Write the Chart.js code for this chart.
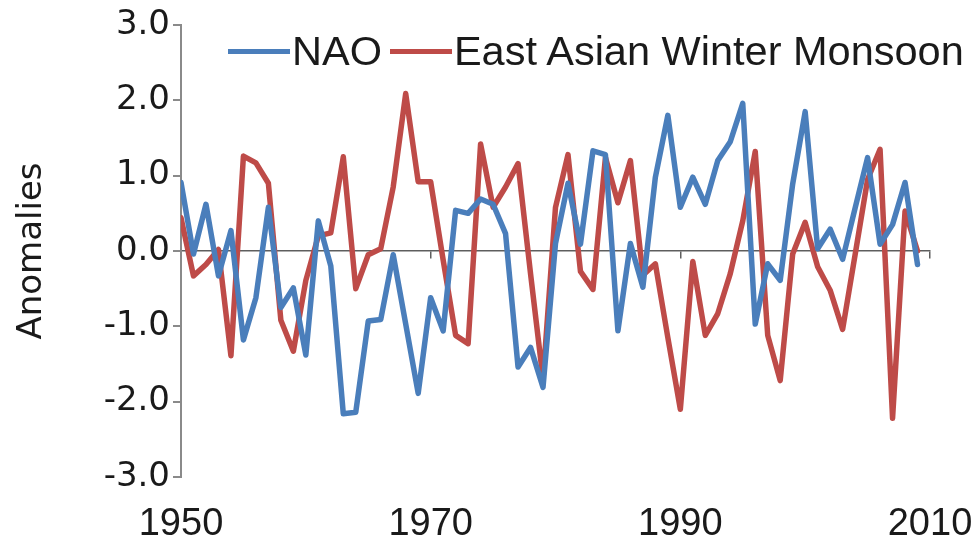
<!DOCTYPE html>
<html>
<head>
<meta charset="utf-8">
<script src="https://cdn.jsdelivr.net/npm/chart.js@4.4.0/dist/chart.umd.min.js"></script>
<style>
  html, body { margin: 0; padding: 0; background: #fff; }
  #wrap { position: relative; width: 973px; height: 541px; }
  #legend {
    position: absolute; top: 30px; left: 228px;
    display: flex; align-items: center;
    font-family: "Liberation Sans", Arial, sans-serif; font-size: 41.5px; line-height: 42px;
    color: #1a1a1a; white-space: nowrap;
  }
  .item { display: flex; align-items: center; margin-right: 8px; }
  .swatch { width: 62px; height: 5px; margin-right: 2px; }
</style>
</head>
<body>
<div id="wrap">
  <canvas id="chart" width="973" height="541"></canvas>
  <div id="legend"></div>
</div>
<script>
const years = [
    1950, 1951, 1952, 1953, 1954, 1955, 1956, 1957, 1958, 1959,
    1960, 1961, 1962, 1963, 1964, 1965, 1966, 1967, 1968, 1969,
    1970, 1971, 1972, 1973, 1974, 1975, 1976, 1977, 1978, 1979,
    1980, 1981, 1982, 1983, 1984, 1985, 1986, 1987, 1988, 1989,
    1990, 1991, 1992, 1993, 1994, 1995, 1996, 1997, 1998, 1999,
    2000, 2001, 2002, 2003, 2004, 2005, 2006, 2007, 2008, 2009,
];

const nao = [
    0.91, -0.04, 0.62, -0.33, 0.27, -1.18, -0.62, 0.58, -0.75, -0.49,
    -1.38, 0.40, -0.20, -2.16, -2.14, -0.93, -0.91, -0.05, -0.97, -1.89,
    -0.62, -1.06, 0.54, 0.50, 0.69, 0.62, 0.23, -1.54, -1.28, -1.81,
    0.10, 0.90, 0.09, 1.33, 1.28, -1.06, 0.10, -0.48, 0.98, 1.80,
    0.58, 0.98, 0.62, 1.20, 1.45, 1.96, -0.97, -0.17, -0.39, 0.89,
    1.85, 0.03, 0.29, -0.11, 0.57, 1.24, 0.09, 0.35, 0.91, -0.18,
];

const eawm = [
    0.44, -0.33, -0.18, 0.02, -1.39, 1.26, 1.17, 0.90, -0.92, -1.33,
    -0.39, 0.20, 0.24, 1.25, -0.50, -0.05, 0.03, 0.85, 2.09, 0.92,
    0.92, -0.12, -1.12, -1.23, 1.42, 0.58, 0.85, 1.16, -0.30, -1.70,
    0.58, 1.28, -0.27, -0.51, 1.24, 0.64, 1.20, -0.32, -0.17, -1.15,
    -2.10, -0.14, -1.12, -0.83, -0.30, 0.40, 1.32, -1.12, -1.72, -0.04,
    0.38, -0.21, -0.52, -1.04, -0.05, 0.95, 1.35, -2.22, 0.53, 0.00,
];

const xTicks = [1950, 1970, 1990, 2010];
const yTicks = [-3, -2, -1, 0, 1, 2, 3];

const axisColor = '#8a8a8a';
const textColor = '#1a1a1a';

const toPoints = (values) => values.map((v, i) => ({ x: years[i], y: v }));
const setTicks = (list) => (axis) => { axis.ticks = list.map(v => ({ value: v })); };

const chart = new Chart(document.getElementById('chart'), {
    type: 'line',
    data: {
        datasets: [
            { label: 'NAO', data: toPoints(nao), borderColor: '#4a7ebb' },
            { label: 'East Asian Winter Monsoon', data: toPoints(eawm), borderColor: '#be4b48' },
        ],
    },
    options: {
        responsive: false,
        animation: false,
        layout: { padding: { top: 25, right: 43, left: 0, bottom: 0 } },
        elements: {
            line: { borderWidth: 5.5, tension: 0, borderCapStyle: 'round', borderJoinStyle: 'round' },
            point: { radius: 0 },
        },
        plugins: {
            legend: { display: false },
            tooltip: { enabled: false },
        },
        scales: {
            x: {
                type: 'linear',
                min: 1950,
                max: 2010,
                afterBuildTicks: setTicks(xTicks),
                afterFit: (scale) => { scale.height = 64; },
                border: { display: false },
                // hidden tick marks only push the year labels down
                grid: { display: false, drawTicks: true, tickLength: 25 },
                ticks: {
                    padding: 0,
                    color: textColor,
                    font: { family: '"Liberation Sans", Arial, sans-serif', size: 38 },
                    callback: (v) => String(v),
                },
            },
            // axis line through zero with its own tick marks
            x2: {
                type: 'linear',
                position: { y: 0 },
                min: 1950,
                max: 2010,
                afterBuildTicks: setTicks(xTicks),
                border: { display: true, color: '#5e5e5e', width: 1.5 },
                grid: { drawOnChartArea: false, drawTicks: true, tickLength: 7, color: '#5e5e5e', lineWidth: 1.5 },
                ticks: { display: false },
            },
            y: {
                min: -3,
                max: 3,
                afterBuildTicks: setTicks(yTicks),
                afterFit: (scale) => { scale.width = 181; },
                border: { display: true, color: axisColor, width: 2 },
                grid: { drawOnChartArea: false, drawTicks: true, tickLength: 8, color: axisColor, lineWidth: 2 },
                ticks: {
                    padding: 3,
                    color: textColor,
                    font: { family: '"DejaVu Sans", sans-serif', size: 34 },
                    callback: (v) => v.toFixed(1),
                },
                title: {
                    display: true,
                    text: 'Anomalies',
                    color: textColor,
                    padding: { top: 12, bottom: 0 },
                    font: { family: '"DejaVu Sans", sans-serif', size: 34 },
                },
            },
        },
    },
});

// legend sits inside the plot, built from the datasets
const legendEl = document.getElementById('legend');
chart.data.datasets.forEach((ds) => {
    const item = document.createElement('div');
    item.className = 'item';
    const swatch = document.createElement('span');
    swatch.className = 'swatch';
    swatch.style.background = ds.borderColor;
    const text = document.createElement('span');
    text.textContent = ds.label;
    item.appendChild(swatch);
    item.appendChild(text);
    legendEl.appendChild(item);
});
</script>
</body>
</html>
